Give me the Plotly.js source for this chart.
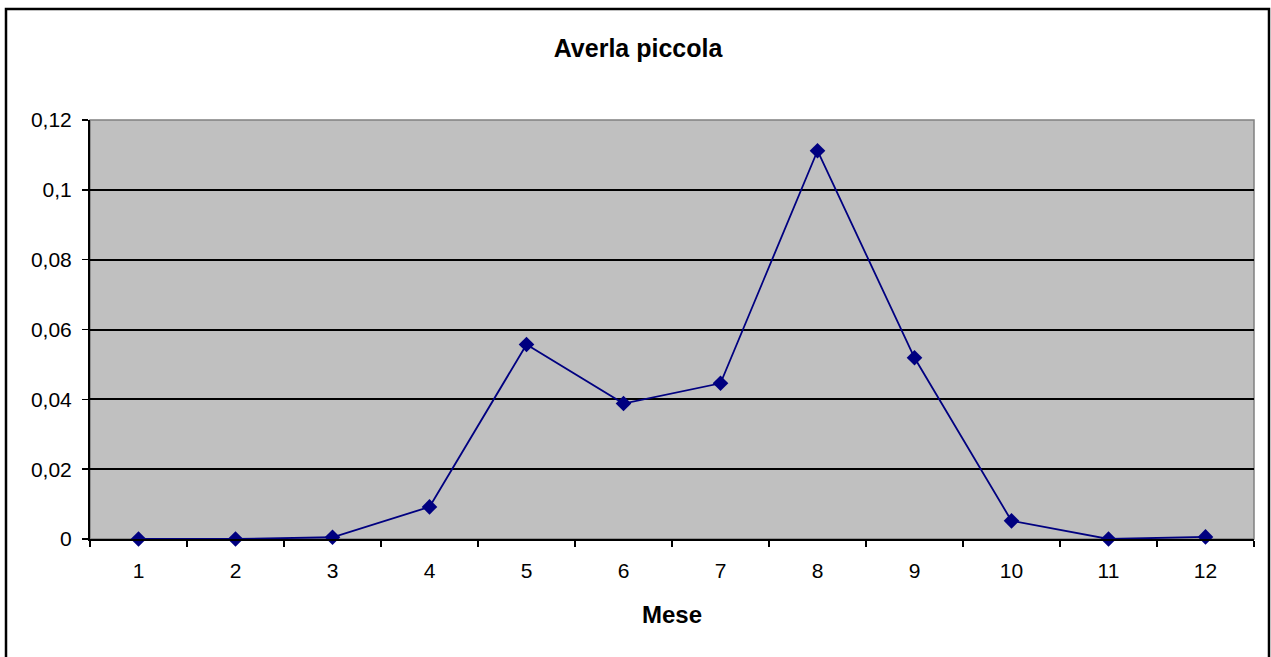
<!DOCTYPE html>
<html>
<head>
<meta charset="utf-8">
<script src="https://cdn.plot.ly/plotly-3.0.1.min.js"></script>
<style>
html,body{margin:0;padding:0;background:#fff;}
#chart{width:1271px;height:657px;}
</style>
</head>
<body>
<div id="chart"></div>
<script>
const months = ['1','2','3','4','5','6','7','8','9','10','11','12'];
const values = [0, 0, 0.0005, 0.0092, 0.0557, 0.0388, 0.0446, 0.1112, 0.0519, 0.0052, 0, 0.0006];
const yTicks = [0, 0.02, 0.04, 0.06, 0.08, 0.1, 0.12];
const chartTitle = 'Averla piccola';
const xTitle = 'Mese';

const trace = {
  x: months,
  y: values,
  type: 'scatter',
  mode: 'lines+markers',
  line: {color: '#000080', width: 1.8},
  marker: {symbol: 'diamond', size: 12, color: '#000080'},
  cliponaxis: false,
  hoverinfo: 'x+y'
};

const font = 'Liberation Sans, Arial, sans-serif';

const layout = {
  width: 1271,
  height: 657,
  margin: {l: 90, r: 17, t: 120, b: 118},
  paper_bgcolor: '#ffffff',
  plot_bgcolor: '#C0C0C0',
  separators: ',.',
  showlegend: false,
  font: {family: font, color: '#000', size: 21},
  title: {
    text: '<b>' + chartTitle + '</b>',
    font: {family: font, size: 25, color: '#000'},
    xref: 'container', x: 0.502,
    yref: 'container', y: 1 - 48/657, yanchor: 'middle'
  },
  xaxis: {
    type: 'category',
    range: [-0.5, 11.5],
    tickson: 'boundaries',
    ticks: 'outside', ticklen: 6, tickwidth: 1.5, tickcolor: '#000',
    showline: true, linecolor: '#000', linewidth: 2,
    showgrid: false, zeroline: false,
    tickfont: {family: font, size: 21, color: '#000'},
    ticklabelstandoff: 12,
    title: {text: '<b>' + xTitle + '</b>', font: {family: font, size: 24, color: '#000'}, standoff: 25}
  },
  yaxis: {
    range: [0, 0.12],
    tickvals: yTicks,
    ticks: 'outside', ticklen: 6, tickwidth: 1.5, tickcolor: '#000',
    showline: true, linecolor: '#000', linewidth: 2,
    showgrid: true, gridcolor: '#000', gridwidth: 2,
    zeroline: false,
    tickfont: {family: font, size: 21, color: '#000'},
    ticklabelstandoff: 6
  },
  shapes: [
    {type: 'rect', xref: 'paper', yref: 'paper', x0: 0, x1: 1, y0: 0, y1: 1,
     line: {color: '#808080', width: 1.5}, layer: 'below'},
    {type: 'rect', xref: 'paper', yref: 'paper',
     x0: (6-90)/1164, x1: (1269-90)/1164, y0: -0.4, y1: (539-9)/419,
     line: {color: '#000', width: 2.5}, fillcolor: 'rgba(0,0,0,0)'}
  ]
};

Plotly.newPlot('chart', [trace], layout, {displayModeBar: false, staticPlot: true});
</script>
</body>
</html>
